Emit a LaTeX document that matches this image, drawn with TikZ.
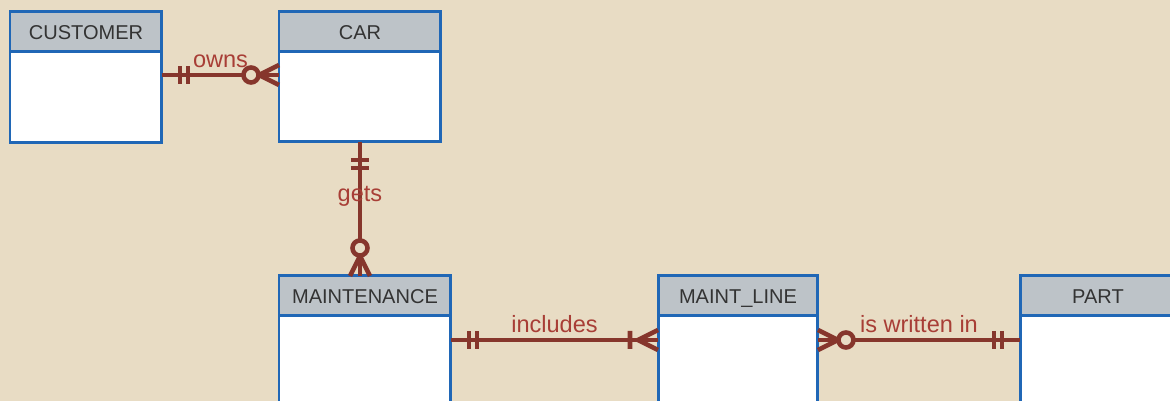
\documentclass[tikz,border=0pt]{standalone}
\usepackage{fontspec}
\setmainfont{Liberation Sans}
\usetikzlibrary{positioning, calc}

\definecolor{sandBg}{HTML}{E8DCC4}
\definecolor{headGray}{HTML}{BDC3C8}
\definecolor{entBlue}{HTML}{2067B6}
\definecolor{relRed}{HTML}{86362C}
\definecolor{relText}{HTML}{A83E36}
\definecolor{headText}{HTML}{333333}

\begin{document}
\begin{tikzpicture}[
    x=0.02cm, y=0.02cm,
    font=\fontsize{11.4}{13}\selectfont,
    % Entity Styles
    enthead/.style={rectangle, draw=entBlue, fill=headGray, line width=1.7pt, outer sep=0pt, inner sep=0pt, text=headText, text height=8.2pt, text depth=0pt, minimum height=0.8cm, anchor=north west},
    entbody/.style={rectangle, draw=entBlue, fill=white, line width=1.7pt, outer sep=0pt, inner sep=0pt},
    % Relationship Styles
    relline/.style={draw=relRed, line width=2.6pt},
    rel/.style={font=\fontsize{13.4}{16}\selectfont, text=relText, anchor=base, yshift=4pt, inner sep=0pt},
    % Cardinality Marks (x points away from the entity)
    mandone/.pic={\draw[relline] (18,-9) -- (18,9) (26,-9) -- (26,9);},
    zeromany/.pic={\draw[relline] (0,-10) -- (20,0) -- (0,10); \draw[relline, fill=sandBg] (28,0) circle (7.5);},
    onemany/.pic={\draw[relline] (0,-10) -- (20,0) -- (0,10) (28,-9) -- (28,9);}
]

\useasboundingbox (0,0) rectangle (1170,401);
\clip (0,0) rectangle (1170,401);
\fill[sandBg] (0,0) rectangle (1170,401);

% =========================================================
% ENTITIES
% =========================================================
\node[enthead, minimum width=3.04cm] (custHead) at (10,389) {CUSTOMER};
\node[entbody, minimum width=3.04cm, minimum height=1.82cm, below=0pt of custHead] (custBody) {};

\node[enthead, minimum width=3.24cm] (carHead) at (279,389) {CAR};
\node[entbody, minimum width=3.24cm, minimum height=1.8cm, below=0pt of carHead] (carBody) {};

\node[enthead, minimum width=3.44cm] (maintHead) at (279,125) {MAINTENANCE};
\node[entbody, minimum width=3.44cm, minimum height=2.2cm, below=0pt of maintHead] (maintBody) {};

\node[enthead, minimum width=3.2cm] (lineHead) at (658,125) {MAINT\_LINE};
\node[entbody, minimum width=3.2cm, minimum height=2.2cm, below=0pt of lineHead] (lineBody) {};

\node[enthead, minimum width=3.12cm] (partHead) at (1020,125) {PART};
\node[entbody, minimum width=3.12cm, minimum height=2.2cm, below=0pt of partHead] (partBody) {};

% =========================================================
% RELATIONSHIPS
% =========================================================
% owns
\coordinate (ownsL) at ($(custBody.north east)+(0,-23)$);
\coordinate (ownsR) at (ownsL -| carBody.west);
\draw[relline] (ownsL) -- node[rel] {owns} (ownsR);
\pic at (ownsL) {mandone};
\pic[rotate=180] at (ownsR) {zeromany};

% gets
\coordinate (getsB) at (carBody.south |- maintHead.north);
\draw[relline] (carBody.south) -- node[rel] {gets} (getsB);
\pic[rotate=-90] at (carBody.south) {mandone};
\pic[rotate=90] at (getsB) {zeromany};

% includes
\coordinate (inclL) at ($(maintBody.north east)+(0,-24)$);
\coordinate (inclR) at (inclL -| lineBody.west);
\draw[relline] (inclL) -- node[rel] {includes} (inclR);
\pic at (inclL) {mandone};
\pic[rotate=180] at (inclR) {onemany};

% is written in
\coordinate (partL) at ($(lineBody.north east)+(0,-24)$);
\coordinate (partR) at (partL -| partBody.west);
\draw[relline] (partL) -- node[rel] {is written in} (partR);
\pic at (partL) {zeromany};
\pic[rotate=180] at (partR) {mandone};

\end{tikzpicture}
\end{document}
